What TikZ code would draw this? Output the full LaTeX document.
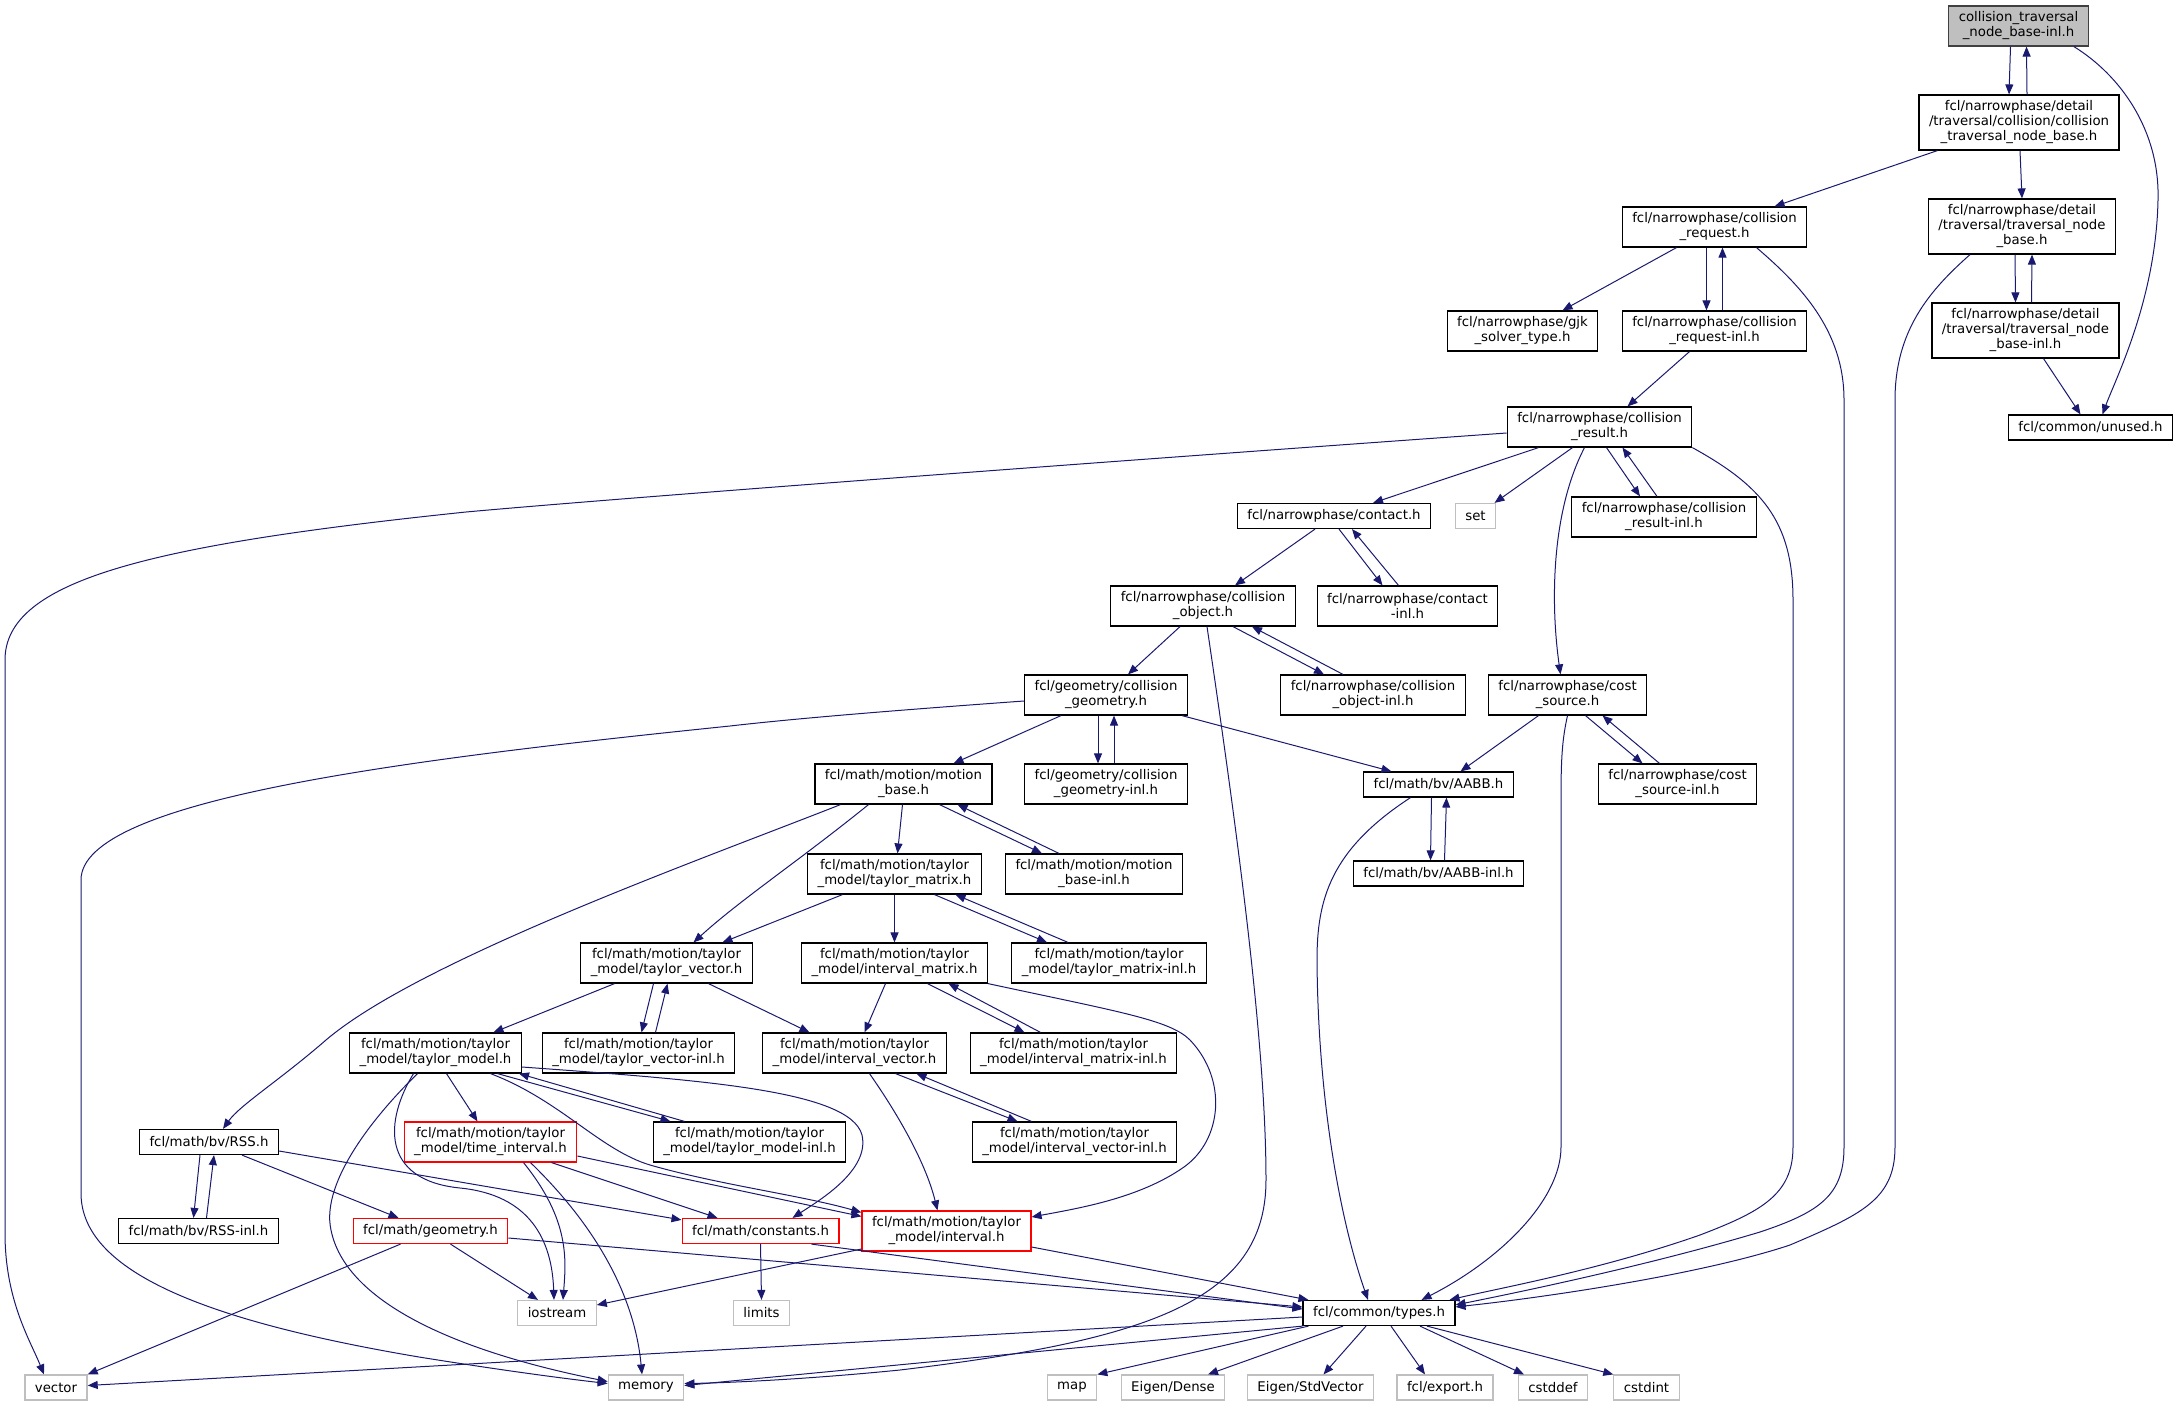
\documentclass[tikz,border=0pt]{standalone}
\usepackage{fontspec}
\usepackage{tikz}
\usetikzlibrary{arrows.meta}
\newfontfamily\dotfont{DejaVu Sans}
\definecolor{depblue}{RGB}{25,25,112}
\definecolor{sysgray}{RGB}{191,191,191}
\definecolor{rootgray}{RGB}{191,191,191}
\definecolor{rootedge}{RGB}{64,64,64}
\tikzset{
  hfile/.style={rectangle, draw=black, fill=white, line width=1.2pt,
    align=center, font=\dotfont\fontsize{13.3}{15}\selectfont,
    inner xsep=10pt, inner ysep=3pt, minimum height=25pt},
  sysfile/.style={hfile, draw=sysgray},
  redfile/.style={hfile, draw=red},
  rootfile/.style={hfile, fill=rootgray, draw=rootedge},
  two/.style={minimum height=40pt},
  three/.style={minimum height=55pt},
  dep/.style={draw=depblue, line width=1pt, -{Triangle[length=10pt,width=8pt]}}
}

\begin{document}
\begin{tikzpicture}[x=1pt, y=-1pt]
  \useasboundingbox (0,0) rectangle (2177,1407);

  % Header nodes, top right
  \node[rootfile, two] (root) at (2018.5,26) {collision\_traversal\\\_node\_base-inl.h};
  \node[hfile, three] (cnb) at (2019,122.5) {fcl/narrowphase/detail\\/traversal/collision/collision\\\_traversal\_node\_base.h};
  \node[hfile, two] (creq) at (1714.5,227) {fcl/narrowphase/collision\\\_request.h};
  \node[hfile, three] (tnb) at (2022,226.5) {fcl/narrowphase/detail\\/traversal/traversal\_node\\\_base.h};
  \node[hfile, two] (gjk) at (1522.5,331) {fcl/narrowphase/gjk\\\_solver\_type.h};
  \node[hfile, two] (creqinl) at (1714.5,331) {fcl/narrowphase/collision\\\_request-inl.h};
  \node[hfile, three] (tnbinl) at (2025.5,330.5) {fcl/narrowphase/detail\\/traversal/traversal\_node\\\_base-inl.h};
  \node[hfile] (unused) at (2090.5,427.5) {fcl/common/unused.h};
  \node[hfile, two] (cres) at (1599.5,427) {fcl/narrowphase/collision\\\_result.h};

  % Narrowphase and geometry
  \node[hfile] (contact) at (1334,516) {fcl/narrowphase/contact.h};
  \node[sysfile] (set) at (1475.5,516) {set};
  \node[hfile, two] (cresinl) at (1664,517) {fcl/narrowphase/collision\\\_result-inl.h};
  \node[hfile, two] (cobj) at (1203,606) {fcl/narrowphase/collision\\\_object.h};
  \node[hfile, two] (contactinl) at (1407.5,606) {fcl/narrowphase/contact\\-inl.h};
  \node[hfile, two] (cgeom) at (1106,695) {fcl/geometry/collision\\\_geometry.h};
  \node[hfile, two] (cobjinl) at (1373,695) {fcl/narrowphase/collision\\\_object-inl.h};
  \node[hfile, two] (csrc) at (1567.5,695) {fcl/narrowphase/cost\\\_source.h};
  \node[hfile, two] (mbase) at (903.5,784) {fcl/math/motion/motion\\\_base.h};
  \node[hfile, two] (cgeominl) at (1106,784) {fcl/geometry/collision\\\_geometry-inl.h};
  \node[hfile] (aabb) at (1438.5,784.5) {fcl/math/bv/AABB.h};
  \node[hfile, two] (csrcinl) at (1677.5,784) {fcl/narrowphase/cost\\\_source-inl.h};
  \node[hfile, two] (tmat) at (894.5,874) {fcl/math/motion/taylor\\\_model/taylor\_matrix.h};
  \node[hfile, two] (mbaseinl) at (1094,874) {fcl/math/motion/motion\\\_base-inl.h};
  \node[hfile] (aabbinl) at (1438.5,873.5) {fcl/math/bv/AABB-inl.h};

  % Taylor model
  \node[hfile, two] (tvec) at (666.5,963) {fcl/math/motion/taylor\\\_model/taylor\_vector.h};
  \node[hfile, two] (imat) at (894.5,963) {fcl/math/motion/taylor\\\_model/interval\_matrix.h};
  \node[hfile, two] (tmatinl) at (1109,963) {fcl/math/motion/taylor\\\_model/taylor\_matrix-inl.h};
  \node[hfile, two] (tmodel) at (435.5,1053) {fcl/math/motion/taylor\\\_model/taylor\_model.h};
  \node[hfile, two] (tvecinl) at (638.5,1053) {fcl/math/motion/taylor\\\_model/taylor\_vector-inl.h};
  \node[hfile, two] (ivec) at (854.5,1053) {fcl/math/motion/taylor\\\_model/interval\_vector.h};
  \node[hfile, two] (imatinl) at (1073.5,1053) {fcl/math/motion/taylor\\\_model/interval\_matrix-inl.h};
  \node[hfile] (rss) at (209,1142) {fcl/math/bv/RSS.h};
  \node[redfile, two] (tint) at (490.5,1142) {fcl/math/motion/taylor\\\_model/time\_interval.h};
  \node[hfile, two] (tmodelinl) at (749.5,1142) {fcl/math/motion/taylor\\\_model/taylor\_model-inl.h};
  \node[hfile, two] (ivecinl) at (1074.5,1142) {fcl/math/motion/taylor\\\_model/interval\_vector-inl.h};
  \node[hfile] (rssinl) at (198.5,1231) {fcl/math/bv/RSS-inl.h};
  \node[redfile] (mgeom) at (430.5,1231) {fcl/math/geometry.h};
  \node[redfile] (mconst) at (760.5,1231) {fcl/math/constants.h};
  \node[redfile, two] (interval) at (946.5,1231) {fcl/math/motion/taylor\\\_model/interval.h};

  % Bottom rows
  \node[sysfile] (iostream) at (557,1313) {iostream};
  \node[sysfile] (limits) at (761.5,1313) {limits};
  \node[hfile] (types) at (1379,1313) {fcl/common/types.h};
  \node[sysfile] (vector) at (56,1387.5) {vector};
  \node[sysfile] (memory) at (646,1387.5) {memory};
  \node[sysfile] (map) at (1072,1387.5) {map};
  \node[sysfile] (eigdense) at (1173,1387.5) {Eigen/Dense};
  \node[sysfile] (eigstd) at (1310.5,1387.5) {Eigen/StdVector};
  \node[sysfile] (export) at (1445,1387.5) {fcl/export.h};
  \node[sysfile] (cstddef) at (1553,1387.5) {cstddef};
  \node[sysfile] (cstdint) at (1646.5,1387.5) {cstdint};

  % Edges from the top
  \draw[dep] ([xshift=-8pt]root.south) -- ([xshift=-10pt]cnb.north);
  \draw[dep] ([xshift=8pt]cnb.north) -- ([xshift=8pt]root.south);
  \draw[dep] ([xshift=-15pt]root.south east) .. controls (2120,75) and (2160,130) .. (2158,200) .. controls (2156,300) and (2115,380) .. ([xshift=12pt]unused.north);
  \draw[dep] ([xshift=19pt]cnb.south west) -- ([xshift=60pt]creq.north);
  \draw[dep] ([xshift=1pt]cnb.south) -- (tnb.north);
  \draw[dep] ([xshift=-38pt]creq.south) -- ([xshift=40pt]gjk.north);
  \draw[dep] ([xshift=-8pt]creq.south) -- ([xshift=-8pt]creqinl.north);
  \draw[dep] ([xshift=8pt]creqinl.north) -- ([xshift=8pt]creq.south);
  \draw[dep] ([xshift=42pt]creq.south) .. controls (1800,285) and (1844,330) .. (1844,400) -- (1844,1147) .. controls (1844,1195) and (1820,1212) .. (1760,1232) .. controls (1650,1265) and (1520,1292) .. ([yshift=-5pt]types.north east);
  \draw[dep] ([xshift=-52pt]tnb.south) .. controls (1930,290) and (1895,330) .. (1895,400) -- (1895,1147) .. controls (1895,1200) and (1860,1215) .. (1790,1245) .. controls (1700,1275) and (1540,1298) .. ([yshift=-7pt]types.north east);
  \draw[dep] ([xshift=-7pt]tnb.south) -- ([xshift=-10pt]tnbinl.north);
  \draw[dep] ([xshift=6pt]tnbinl.north) -- ([xshift=10pt]tnb.south);
  \draw[dep] ([xshift=18pt]tnbinl.south) -- ([xshift=-10pt]unused.north);
  \draw[dep] ([xshift=-25pt]creqinl.south) -- ([xshift=28pt]cres.north);

  % collision_result.h
  \draw[dep] ([yshift=-6pt]cres.west) .. controls (1100,462) and (620,498) .. (466,512) .. controls (150,545) and (5,580) .. (5,660) -- (5,1233) .. controls (5,1300) and (30,1340) .. ([xshift=-12pt]vector.north);
  \draw[dep] ([xshift=-61pt]cres.south) -- ([xshift=39pt]contact.north);
  \draw[dep] ([xshift=-27pt]cres.south) -- ([xshift=19pt]set.north);
  \draw[dep] ([xshift=-15pt]cres.south) .. controls (1552,510) and (1550,600) .. ([xshift=-7pt]csrc.north);
  \draw[dep] ([xshift=7pt]cres.south) -- ([xshift=-24pt]cresinl.north);
  \draw[dep] ([xshift=-7pt]cresinl.north) -- ([xshift=23pt]cres.south);
  \draw[dep] (cres.south east) .. controls (1760,485) and (1793,520) .. (1793,600) -- (1793,1147) .. controls (1793,1195) and (1760,1212) .. (1700,1235) .. controls (1600,1270) and (1500,1288) .. ([xshift=-6pt]types.north east);

  % contact.h, collision_object.h
  \draw[dep] ([xshift=-19pt]contact.south) -- ([xshift=32pt]cobj.north);
  \draw[dep] ([xshift=5pt]contact.south) -- ([xshift=-25pt]contactinl.north);
  \draw[dep] ([xshift=-9pt]contactinl.north) -- ([xshift=18pt]contact.south);
  \draw[dep] ([xshift=-23pt]cobj.south) -- ([xshift=22pt]cgeom.north);
  \draw[dep] ([xshift=30pt]cobj.south) -- ([xshift=-49pt]cobjinl.north);
  \draw[dep] ([xshift=-30pt]cobjinl.north) -- ([xshift=49pt]cobj.south);
  \draw[dep] ([xshift=4pt]cobj.south) .. controls (1240,850) and (1266,1050) .. (1266,1180) .. controls (1266,1300) and (1150,1340) .. (900,1370) .. controls (800,1380) and (720,1383) .. ([yshift=4pt]memory.east);

  % collision_geometry.h
  \draw[dep] ([yshift=-6pt]cgeom.west) .. controls (900,710) and (800,718) .. (730,726) .. controls (400,760) and (81,800) .. (81,880) -- (81,1193) .. controls (81,1270) and (200,1320) .. (419,1357) .. controls (500,1370) and (560,1378) .. ([yshift=4pt]memory.west);
  \draw[dep] ([xshift=-45pt]cgeom.south) -- ([xshift=50pt]mbase.north);
  \draw[dep] ([xshift=-8pt]cgeom.south) -- ([xshift=-8pt]cgeominl.north);
  \draw[dep] ([xshift=8pt]cgeominl.north) -- ([xshift=8pt]cgeom.south);
  \draw[dep] ([xshift=76pt]cgeom.south) -- ([xshift=-47pt]aabb.north);

  % cost_source.h, AABB.h
  \draw[dep] ([xshift=-29pt]csrc.south) -- ([xshift=22pt]aabb.north);
  \draw[dep] (csrc.south) .. controls (1562,740) and (1561,760) .. (1561,800) -- (1561,1147) .. controls (1561,1200) and (1500,1260) .. ([xshift=-34pt]types.north east);
  \draw[dep] ([xshift=18pt]csrc.south) -- ([xshift=-35pt]csrcinl.north);
  \draw[dep] ([xshift=-18pt]csrcinl.north) -- ([xshift=35pt]csrc.south);
  \draw[dep] ([xshift=-28pt]aabb.south) .. controls (1330,850) and (1317,900) .. (1317,960) .. controls (1318,1100) and (1340,1220) .. ([xshift=-11pt]types.north);
  \draw[dep] ([xshift=-7pt]aabb.south) -- ([xshift=-8pt]aabbinl.north);
  \draw[dep] ([xshift=6pt]aabbinl.north) -- ([xshift=8pt]aabb.south);

  % motion_base.h, taylor_matrix.h
  \draw[dep] ([xshift=-63pt]mbase.south) .. controls (700,860) and (420,960) .. (326,1040) .. controls (280,1080) and (240,1105) .. ([xshift=14pt]rss.north);
  \draw[dep] ([xshift=-35pt]mbase.south) .. controls (800,860) and (740,900) .. ([xshift=27pt]tvec.north);
  \draw[dep] ([xshift=-1pt]mbase.south) -- ([xshift=3pt]tmat.north);
  \draw[dep] ([xshift=36pt]mbase.south) -- ([xshift=-52pt]mbaseinl.north);
  \draw[dep] ([xshift=-35pt]mbaseinl.north) -- ([xshift=54pt]mbase.south);
  \draw[dep] ([xshift=-52pt]tmat.south) -- ([xshift=56pt]tvec.north);
  \draw[dep] (tmat.south) -- (imat.north);
  \draw[dep] ([xshift=40pt]tmat.south) -- ([xshift=-62pt]tmatinl.north);
  \draw[dep] ([xshift=-41pt]tmatinl.north) -- ([xshift=61pt]tmat.south);

  % taylor_vector.h, interval_matrix.h, interval_vector.h
  \draw[dep] ([xshift=-52pt]tvec.south) -- ([xshift=58pt]tmodel.north);
  \draw[dep] ([xshift=-13pt]tvec.south) -- ([xshift=3pt]tvecinl.north);
  \draw[dep] ([xshift=17pt]tvecinl.north) -- ([xshift=1pt]tvec.south);
  \draw[dep] ([xshift=42pt]tvec.south) -- ([xshift=-45pt]ivec.north);
  \draw[dep] ([xshift=-9pt]imat.south) -- ([xshift=10pt]ivec.north);
  \draw[dep] ([xshift=33pt]imat.south) -- ([xshift=-49pt]imatinl.north);
  \draw[dep] ([xshift=-33pt]imatinl.north) -- ([xshift=54pt]imat.south);
  \draw[dep] (imat.south east) .. controls (1120,1012) and (1170,1020) .. (1190,1040) .. controls (1228,1080) and (1222,1140) .. (1184,1167) .. controls (1140,1198) and (1080,1208) .. ([yshift=14pt]interval.east);
  \draw[dep] ([xshift=15pt]ivec.south) .. controls (895,1110) and (925,1160) .. ([xshift=-9pt]interval.north);
  \draw[dep] ([xshift=41pt]ivec.south) -- ([xshift=-57pt]ivecinl.north);
  \draw[dep] ([xshift=-43pt]ivecinl.north) -- ([xshift=62pt]ivec.south);

  % taylor_model.h
  \draw[dep] ([xshift=11pt]tmodel.south) -- ([xshift=-13pt]tint.north);
  \draw[dep] ([xshift=62pt]tmodel.south) -- ([xshift=-79pt]tmodelinl.north);
  \draw[dep] ([xshift=-65pt]tmodelinl.north) -- ([xshift=-3pt]tmodel.south east);
  \draw[dep] ([yshift=-14pt]tmodel.east) .. controls (700,1080) and (850,1090) .. (862,1135) .. controls (870,1170) and (820,1200) .. ([xshift=32pt]mconst.north);
  \draw[dep] ([xshift=55pt]tmodel.south) .. controls (560,1100) and (600,1150) .. (650,1165) .. controls (720,1185) and (800,1195) .. ([yshift=-2pt]interval.north west);
  \draw[dep] ([xshift=-18pt]tmodel.south) .. controls (380,1110) and (320,1180) .. (331,1230) .. controls (345,1300) and (450,1350) .. ([yshift=6pt]memory.west);
  \draw[dep] ([xshift=-22pt]tmodel.south) .. controls (385,1120) and (380,1180) .. (460,1188) .. controls (530,1195) and (552,1240) .. ([xshift=-3pt]iostream.north);

  % RSS.h
  \draw[dep] ([xshift=-9pt]rss.south) -- ([xshift=-5pt]rssinl.north);
  \draw[dep] ([xshift=8pt]rssinl.north) -- ([xshift=5pt]rss.south);
  \draw[dep] ([xshift=33pt]rss.south) -- ([xshift=-32pt]mgeom.north);
  \draw[dep] ([yshift=-9pt]rss.east) -- ([yshift=-2pt]mconst.north west);

  % time_interval.h
  \draw[dep] ([xshift=33pt]tint.south) .. controls (570,1220) and (566,1260) .. ([xshift=6pt]iostream.north);
  \draw[dep] ([xshift=40pt]tint.south) .. controls (600,1230) and (635,1300) .. ([xshift=-4pt]memory.north);
  \draw[dep] ([xshift=61pt]tint.south) -- ([xshift=-43pt]mconst.north);
  \draw[dep] ([yshift=-14pt]tint.east) -- ([yshift=-6pt]interval.north west);

  % geometry.h, constants.h, interval.h
  \draw[dep] ([xshift=-30pt]mgeom.south) -- (vector.north east);
  \draw[dep] ([xshift=20pt]mgeom.south) -- ([xshift=-19pt]iostream.north);
  \draw[dep] ([yshift=-7pt]mgeom.east) -- ([yshift=6pt]types.west);
  \draw[dep] (mconst.south) -- (limits.north);
  \draw[dep] ([xshift=51pt]mconst.south) -- ([yshift=4pt]types.west);
  \draw[dep] ([yshift=-16pt]interval.east) -- ([xshift=6pt]types.north west);
  \draw[dep] ([yshift=-18pt]interval.west) -- ([yshift=8pt]iostream.east);

  % types.h
  \draw[dep] ([yshift=-4pt]types.west) -- ([yshift=2pt]vector.east);
  \draw[dep] (types.south west) -- ([yshift=2pt]memory.east);
  \draw[dep] ([xshift=6pt]types.south west) -- (map.north east);
  \draw[dep] ([xshift=-36pt]types.south) -- ([xshift=35pt]eigdense.north);
  \draw[dep] ([xshift=-13pt]types.south) -- ([xshift=13pt]eigstd.north);
  \draw[dep] ([xshift=12pt]types.south) -- ([xshift=-20pt]export.north);
  \draw[dep] ([xshift=41pt]types.south) -- ([xshift=-29pt]cstddef.north);
  \draw[dep] ([xshift=48pt]types.south) -- (cstdint.north west);
\end{tikzpicture}
\end{document}
